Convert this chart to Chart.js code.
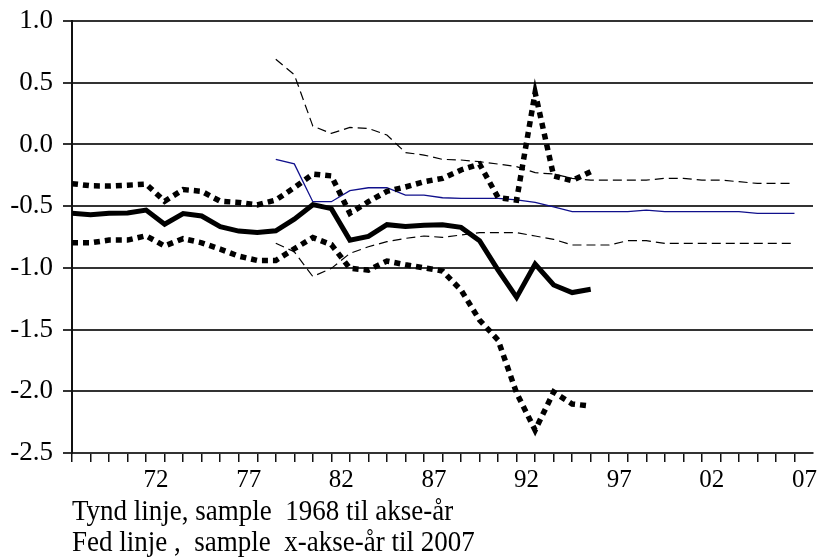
<!DOCTYPE html>
<html>
<head>
<meta charset="utf-8">
<script src="https://cdn.jsdelivr.net/npm/chart.js@4.4.0/dist/chart.umd.min.js"></script>
<style>
  html, body { margin: 0; padding: 0; background: #fff; }
  canvas { display: block; }
</style>
</head>
<body>
<canvas id="chart" width="818" height="557"></canvas>
<script>
// years on the x axis (annual, 1968-2007)
const years = [1968, 1969, 1970, 1971, 1972, 1973, 1974, 1975, 1976, 1977,
  1978, 1979, 1980, 1981, 1982, 1983, 1984, 1985, 1986, 1987,
  1988, 1989, 1990, 1991, 1992, 1993, 1994, 1995, 1996, 1997,
  1998, 1999, 2000, 2001, 2002, 2003, 2004, 2005, 2006, 2007];

const tickYears = [1972, 1977, 1982, 1987, 1992, 1997, 2002, 2007];
const tickLabels = ["72", "77", "82", "87", "92", "97", "02", "07"];

// Fed linje: sample x-akse-år til 2007 (1968-1996)
const fedMid = [-0.558, -0.570, -0.558, -0.556, -0.532, -0.647, -0.560, -0.580, -0.667, -0.702,
  -0.714, -0.700, -0.605, -0.488, -0.520, -0.775, -0.745, -0.650, -0.665, -0.655,
  -0.650, -0.672, -0.780, -1.018, -1.239, -0.969, -1.139, -1.200, -1.174, null,
  null, null, null, null, null, null, null, null, null, null];
const fedUpper = [-0.318, -0.335, -0.337, -0.330, -0.322, -0.460, -0.366, -0.380, -0.460, -0.470,
  -0.490, -0.451, -0.350, -0.240, -0.255, -0.558, -0.464, -0.380, -0.345, -0.302,
  -0.275, -0.207, -0.159, -0.430, -0.451, 0.420, -0.256, -0.293, -0.221, null,
  null, null, null, null, null, null, null, null, null, null];
const fedLower = [-0.797, -0.797, -0.775, -0.775, -0.740, -0.823, -0.763, -0.797, -0.848, -0.905,
  -0.940, -0.940, -0.845, -0.755, -0.812, -1.004, -1.018, -0.945, -0.975, -1.000,
  -1.025, -1.180, -1.423, -1.585, -2.014, -2.315, -2.006, -2.103, -2.120, null,
  null, null, null, null, null, null, null, null, null, null];

// Tynd linje: sample 1968 til akse-år (1979-2007)
const tyndMid = [null, null, null, null, null, null, null, null, null, null,
  null, -0.121, -0.158, -0.464, -0.464, -0.375, -0.351, -0.351, -0.410, -0.410,
  -0.432, -0.437, -0.437, -0.437, -0.450, -0.469, -0.505, -0.545, -0.545, -0.545,
  -0.545, -0.532, -0.545, -0.545, -0.545, -0.545, -0.545, -0.558, -0.558, -0.558];
const tyndUpper = [null, null, null, null, null, null, null, null, null, null,
  null, 0.690, 0.565, 0.148, 0.089, 0.138, 0.130, 0.076, -0.066, -0.086,
  -0.121, -0.126, -0.140, -0.159, -0.180, -0.229, -0.240, -0.275, -0.289, -0.289,
  -0.289, -0.289, -0.275, -0.275, -0.289, -0.289, -0.302, -0.316, -0.316, -0.316];
const tyndLower = [null, null, null, null, null, null, null, null, null, null,
  null, -0.800, -0.870, -1.070, -1.004, -0.883, -0.829, -0.788, -0.761, -0.742,
  -0.753, -0.734, -0.715, -0.715, -0.715, -0.742, -0.769, -0.815, -0.815, -0.815,
  -0.780, -0.780, -0.802, -0.802, -0.802, -0.802, -0.802, -0.802, -0.802, -0.802];

const footNotes = ["Tynd linje, sample  1968 til akse-år", "Fed linje ,  sample  x-akse-år til 2007"];

const serif = "'Liberation Serif', 'Times New Roman', serif";

function toPoints(values) {
  return years.map((yr, i) => ({ x: yr, y: values[i] }));
}

function line(values, color, width, dash) {
  return {
    data: toPoints(values),
    borderColor: color,
    borderWidth: width,
    borderDash: dash || [],
    borderCapStyle: "butt",
    pointRadius: 0,
    fill: false,
    tension: 0
  };
}

const footerText = {
  id: "footerText",
  afterDraw(chart) {
    const ctx = chart.ctx;
    ctx.save();
    ctx.font = "27px " + serif;
    ctx.fillStyle = "#000";
    ctx.textBaseline = "alphabetic";
    ctx.scale(1, 1.1);
    ctx.fillText(footNotes[0], chart.chartArea.left, 520 / 1.1);
    ctx.fillText(footNotes[1], chart.chartArea.left, 551 / 1.1);
    ctx.restore();
  }
};

new Chart(document.getElementById("chart").getContext("2d"), {
  type: "line",
  data: {
    datasets: [
      line(fedMid, "#000", 5),
      line(fedUpper, "#000", 5.5, [6, 5]),
      line(fedLower, "#000", 5.5, [6, 5]),
      line(tyndMid, "#10108c", 1.3),
      line(tyndUpper, "#000", 1.2, [9, 5]),
      line(tyndLower, "#000", 1.2, [9, 5])
    ]
  },
  options: {
    responsive: false,
    animation: false,
    devicePixelRatio: 1,
    layout: { padding: { top: 21, right: 5, bottom: 64, left: 0 } },
    plugins: {
      legend: { display: false },
      tooltip: { enabled: false }
    },
    scales: {
      x: {
        type: "linear",
        min: 1968,
        max: 2008,
        afterBuildTicks: (scale) => {
          scale.ticks = scale.ticks.filter((t) => t.value <= 2007);
        },
        afterFit: (scale) => { scale.height = 40; },
        grid: { drawOnChartArea: false, color: "#111", lineWidth: 1.5, tickLength: 9 },
        border: { display: true, color: "#333", width: 2 },
        ticks: {
          stepSize: 1,
          autoSkip: false,
          maxRotation: 0,
          labelOffset: 10,
          padding: 3,
          color: "#000",
          font: { family: serif, size: 25 },
          callback: (v) => {
            const i = tickYears.indexOf(v);
            return i >= 0 ? tickLabels[i] : "";
          }
        }
      },
      y: {
        min: -2.5,
        max: 1.0,
        afterFit: (scale) => {
          scale.width = 72;
          scale.paddingTop = 0;
          scale.paddingBottom = 0;
        },
        grid: { color: "#333", lineWidth: 2, tickLength: 9 },
        border: { display: true, color: "#111", width: 2 },
        ticks: {
          stepSize: 0.5,
          padding: 10,
          color: "#000",
          font: { family: serif, size: 27 },
          callback: (v) => Number(v).toFixed(1)
        }
      }
    }
  },
  plugins: [footerText]
});
</script>
</body>
</html>
